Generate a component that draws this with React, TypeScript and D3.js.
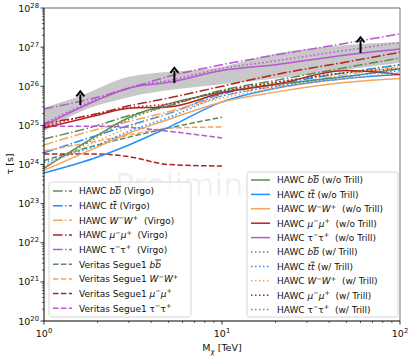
import React from "react";
import * as d3 from "d3";

// masses in TeV
const masses = [1, 2, 3, 5, 10, 20, 50, 100];
const veritasMasses = [1, 2, 3, 5, 10];

// log10(tau / s)
const bbVirgo = [24.65, 25.0, 25.25, 25.5, 25.9, 26.15, 26.48, 26.72];
const ttVirgo = [24.3, 24.75, 25.0, 25.3, 25.8, 26.05, 26.35, 26.55];
const wwVirgo = [24.5, 24.9, 25.1, 25.35, 25.75, 26.0, 26.3, 26.5];
const mumuVirgo = [25.05, 25.3, 25.5, 25.7, 26.0, 26.3, 26.62, 26.87];
const tautauVirgo = [25.42, 25.72, 25.95, 26.25, 26.55, 26.8, 27.1, 27.34];

const bbNoTrill = [23.9, 24.75, 25.2, 25.55, 25.85, 26.05, 26.25, 26.45];
const ttNoTrill = [23.78, 24.19, 24.5, 24.95, 25.6, 25.95, 26.2, 26.3];
const wwNoTrill = [23.85, 24.45, 24.8, 25.15, 25.6, 25.85, 26.1, 26.2];
const mumuNoTrill = [24.93, 25.26, 25.44, 25.47, 25.83, 26.05, 26.4, 26.3];
const tautauNoTrill = [25.0, 25.65, 25.95, 26.1, 26.4, 26.55, 26.8, 26.95];

const bbTrill = [23.95, 24.7, 25.15, 25.5, 25.88, 26.1, 26.35, 26.55];
const ttTrill = [24.05, 24.5, 24.85, 25.2, 25.75, 26.0, 26.25, 26.4];
const wwTrill = [23.95, 24.6, 24.95, 25.3, 25.7, 25.95, 26.2, 26.35];
const mumuTrill = [24.98, 25.3, 25.45, 25.55, 25.87, 26.1, 26.35, 26.45];
const tautauTrill = [25.05, 25.68, 25.97, 26.15, 26.45, 26.65, 26.92, 27.12];

const bbSegue = [24.1, 24.5, 24.7, 24.93, 25.21];
const wwSegue = [24.35, 24.6, 24.75, 24.93, 24.96];
const mumuSegue = [24.27, 24.27, 24.2, 24.0, 23.96];
const tautauSegue = [24.98, 24.98, 24.95, 24.85, 24.68];

// grey uncertainty band
const bandMasses = [1, 1.6, 3, 10, 20, 100];
const bandLow = [24.85, 25.35, 25.72, 26.05, 26.2, 26.6];
const bandHigh = [25.45, 25.75, 26.24, 26.5, 26.83, 27.13];

// lower-limit arrows: mass, log10 tau base, log10 tau tip
const arrowMasses = [1.6, 5.4, 60];
const arrowBase = [25.52, 26.08, 26.85];
const arrowTip = [25.87, 26.47, 27.25];

const yExps = [20, 21, 22, 23, 24, 25, 26, 27, 28];
const xExps = [0, 1, 2];

const GREEN = "#5b8c55";
const BLUE = "#1e90ff";
const ORANGE = "#f4a460";
const RED = "#b22222";
const PURPLE = "#ba55d3";

const DASHDOT = "9.6,2.4,1.5,2.4";
const DASHED = "5.5,2.4";
const DOTTED = "1.5,2.5";

const W = 414;
const H = 357;
const FONT = "DejaVu Sans, sans-serif";

const x = d3.scaleLog().domain([1, 100]).range([44, 400]);
const y = d3.scaleLog().domain([1e20, 1e28]).range([321, 8]);

type Series = { xs: number[]; vals: number[]; color: string; dash: string | null; kind: string; label: string };

const virgo: Series[] = [
  { xs: masses, vals: bbVirgo, color: GREEN, dash: DASHDOT, kind: "bb", label: "(Virgo)" },
  { xs: masses, vals: ttVirgo, color: BLUE, dash: DASHDOT, kind: "tt", label: "(Virgo)" },
  { xs: masses, vals: wwVirgo, color: ORANGE, dash: DASHDOT, kind: "ww", label: "(Virgo)" },
  { xs: masses, vals: mumuVirgo, color: RED, dash: DASHDOT, kind: "mumu", label: "(Virgo)" },
  { xs: masses, vals: tautauVirgo, color: PURPLE, dash: DASHDOT, kind: "tautau", label: "(Virgo)" },
];
const segue: Series[] = [
  { xs: veritasMasses, vals: bbSegue, color: GREEN, dash: DASHED, kind: "bb", label: "" },
  { xs: veritasMasses, vals: wwSegue, color: ORANGE, dash: DASHED, kind: "ww", label: "" },
  { xs: veritasMasses, vals: mumuSegue, color: RED, dash: DASHED, kind: "mumu", label: "" },
  { xs: veritasMasses, vals: tautauSegue, color: PURPLE, dash: DASHED, kind: "tautau", label: "" },
];
const noTrill: Series[] = [
  { xs: masses, vals: bbNoTrill, color: GREEN, dash: null, kind: "bb", label: "(w/o Trill)" },
  { xs: masses, vals: ttNoTrill, color: BLUE, dash: null, kind: "tt", label: "(w/o Trill)" },
  { xs: masses, vals: wwNoTrill, color: ORANGE, dash: null, kind: "ww", label: "(w/o Trill)" },
  { xs: masses, vals: mumuNoTrill, color: RED, dash: null, kind: "mumu", label: "(w/o Trill)" },
  { xs: masses, vals: tautauNoTrill, color: PURPLE, dash: null, kind: "tautau", label: "(w/o Trill)" },
];
const trill: Series[] = [
  { xs: masses, vals: bbTrill, color: GREEN, dash: DOTTED, kind: "bb", label: "(w/ Trill)" },
  { xs: masses, vals: ttTrill, color: BLUE, dash: DOTTED, kind: "tt", label: "(w/ Trill)" },
  { xs: masses, vals: wwTrill, color: ORANGE, dash: DOTTED, kind: "ww", label: "(w/ Trill)" },
  { xs: masses, vals: mumuTrill, color: RED, dash: DOTTED, kind: "mumu", label: "(w/ Trill)" },
  { xs: masses, vals: tautauTrill, color: PURPLE, dash: DOTTED, kind: "tautau", label: "(w/ Trill)" },
];

const line = d3
  .line<[number, number]>()
  .x((d) => x(d[0]))
  .y((d) => y(Math.pow(10, d[1])))
  .curve(d3.curveMonotoneX);

const band = d3
  .area<number>()
  .x((_, i) => x(bandMasses[i]))
  .y0((_, i) => y(Math.pow(10, bandLow[i])))
  .y1((_, i) => y(Math.pow(10, bandHigh[i])))
  .curve(d3.curveMonotoneX);

// mathtext-ish channel names, followed by the label back on the baseline
const channelLabel = (kind: string, label: string) => {
  if (kind === "bb" || kind === "tt") {
    const c = kind === "bb" ? "b" : "t";
    const out = [
      <tspan key="1" fontStyle="italic">{c}</tspan>,
      <tspan key="2" fontStyle="italic" style={{ textDecoration: "overline" }}>{c}</tspan>,
    ];
    if (label) out.push(<tspan key="3">{" " + label}</tspan>);
    return out;
  }
  const sym = kind === "ww" ? "W" : kind === "mumu" ? "\u03bc" : "\u03c4";
  const it = kind === "tautau" ? "normal" : "italic";
  const out = [
    <tspan key="1" fontStyle={it}>{sym}</tspan>,
    <tspan key="2" dy={-3.5} fontSize={6.5}>{"\u2212"}</tspan>,
    <tspan key="3" dy={3.5} fontStyle={it}>{sym}</tspan>,
    <tspan key="4" dy={-3.5} fontSize={6.5}>+</tspan>,
  ];
  if (label) out.push(<tspan key="5" dy={3.5}>{"  " + label}</tspan>);
  return out;
};

const Legend = ({ items, prefix, x0, y0, w, h, rowH, top }: any) => (
  <g>
    <rect x={x0} y={y0} width={w} height={h} rx={2.5} fill="white" fillOpacity={0.8} stroke="#cccccc" strokeWidth={0.8} />
    {items.map((s: Series, i: number) => {
      const cy = top + i * rowH;
      return (
        <g key={i}>
          <line x1={x0 + 4} x2={x0 + 23} y1={cy} y2={cy} stroke={s.color} strokeWidth={1.5} strokeDasharray={s.dash || undefined} />
          <text x={x0 + 30} y={cy + 3.3} fontSize={9} fontFamily={FONT} fill="#111" style={{ whiteSpace: "pre" }}>
            {prefix(s)}
            {channelLabel(s.kind, s.label)}
          </text>
        </g>
      );
    })}
  </g>
);

export default function App() {
  const all = [...virgo, ...segue, ...noTrill, ...trill];
  const yMinor: number[] = [];
  yExps.slice(0, -1).forEach((e) => {
    for (let k = 2; k < 10; k++) yMinor.push(k * Math.pow(10, e));
  });
  const xMinor: number[] = [];
  [0, 1].forEach((e) => {
    for (let k = 2; k < 10; k++) xMinor.push(k * Math.pow(10, e));
  });

  return (
    <svg width={W} height={H} style={{ position: "absolute", left: 0, top: 0, background: "white" }} fontFamily={FONT}>
      <defs>
        <clipPath id="plot">
          <rect x={44} y={8} width={356} height={313} />
        </clipPath>
      </defs>
      <rect width={W} height={H} fill="white" />

      <text x={205} y={196} fontSize={32} textAnchor="middle" fill="#000" fillOpacity={0.06} fontFamily={FONT}>
        Preliminary
      </text>

      <g clipPath="url(#plot)">
        <path d={band(bandMasses) || ""} fill="#c8c8c8" />
        {all.map((s, i) => (
          <path
            key={i}
            d={line(s.xs.map((m, j) => [m, s.vals[j]] as [number, number])) || ""}
            fill="none"
            stroke={s.color}
            strokeWidth={1.5}
            strokeDasharray={s.dash || undefined}
          />
        ))}
        {arrowMasses.map((m, i) => {
          const ax = x(m);
          const yb = y(Math.pow(10, arrowBase[i]));
          const yt = y(Math.pow(10, arrowTip[i]));
          return (
            <g key={i}>
              <line x1={ax} x2={ax} y1={yb} y2={yt + 3} stroke="black" strokeWidth={2} />
              <path d={`M${ax - 4},${yt + 5} L${ax},${yt} L${ax + 4},${yt + 5}`} fill="none" stroke="black" strokeWidth={2} />
            </g>
          );
        })}
      </g>

      {/* spines */}
      <line x1={44} x2={400} y1={8} y2={8} stroke="#666" strokeWidth={1} />
      <line x1={400} x2={400} y1={8} y2={321} stroke="#777" strokeWidth={1} />
      <line x1={44} x2={44} y1={8} y2={321} stroke="black" strokeWidth={1} />
      <line x1={44} x2={400} y1={321} y2={321} stroke="black" strokeWidth={1} />

      {/* y ticks */}
      {yExps.map((e) => {
        const ty = y(Math.pow(10, e));
        return (
          <g key={e}>
            <line x1={40.5} x2={44} y1={ty} y2={ty} stroke="black" strokeWidth={0.8} />
            <text x={39} y={ty + 3.5} fontSize={9.5} textAnchor="end" fill="#111">
              10<tspan dy={-4} fontSize={6.8}>{e}</tspan>
            </text>
          </g>
        );
      })}
      {yMinor.map((v, i) => (
        <line key={i} x1={42} x2={44} y1={y(v)} y2={y(v)} stroke="black" strokeWidth={0.6} />
      ))}

      {/* x ticks */}
      {xExps.map((e) => {
        const tx = x(Math.pow(10, e));
        return (
          <g key={e}>
            <line x1={tx} x2={tx} y1={321} y2={324.5} stroke="black" strokeWidth={0.8} />
            <text x={tx} y={337} fontSize={9.5} textAnchor="middle" fill="#111">
              10<tspan dy={-4} fontSize={6.8}>{e}</tspan>
            </text>
          </g>
        );
      })}
      {xMinor.map((v, i) => (
        <line key={i} x1={x(v)} x2={x(v)} y1={321} y2={323} stroke="black" strokeWidth={0.6} />
      ))}

      <text x={222} y={351} fontSize={9.5} textAnchor="middle" fill="#111">
        M<tspan dy={2.5} fontSize={7} fontStyle="italic">{"\u03c7"}</tspan>
        <tspan dy={-2.5}> [TeV]</tspan>
      </text>
      <text transform="translate(13,164) rotate(-90)" fontSize={9.5} textAnchor="middle" fill="#111">
        {"\u03c4 [s]"}
      </text>

      <Legend
        items={[...virgo, ...segue]}
        prefix={(s: Series) => (s.dash === DASHED ? "Veritas Segue1 " : "HAWC ")}
        x0={49}
        y0={182}
        w={142}
        h={135}
        rowH={14.65}
        top={191}
      />
      <Legend
        items={[...noTrill, ...trill]}
        prefix={() => "HAWC "}
        x0={247}
        y0={172}
        w={151}
        h={145}
        rowH={14.4}
        top={180}
      />
    </svg>
  );
}
